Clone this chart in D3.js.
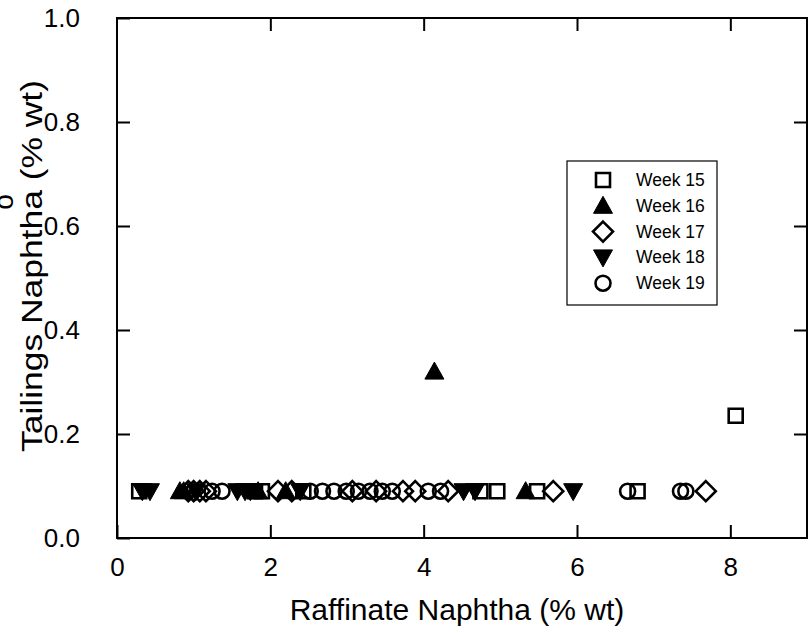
<!DOCTYPE html>
<html>
<head>
<meta charset="utf-8">
<script src="https://cdn.jsdelivr.net/npm/d3@7"></script>
<style>
  body { margin: 0; background: #fff; }
  text { font-family: "Liberation Sans", Arial, sans-serif; fill: #000; }
</style>
</head>
<body>
<svg id="chart"></svg>
<script>
// week series, x = raffinate naphtha, y = tailings naphtha (% wt)
const weeks = ["Week 15", "Week 16", "Week 17", "Week 18", "Week 19"];
const shapes = ["square", "triangle", "diamond", "triangleDown", "circle"];

const week15x = [0.29, 1.80, 1.89, 2.43, 4.74, 4.96, 5.48, 6.79, 8.07];
const week15y = [0.09, 0.09, 0.09, 0.09, 0.09, 0.09, 0.09, 0.09, 0.235];
const week16x = [0.82, 0.87, 1.84, 2.20, 4.14, 5.33];
const week16y = [0.09, 0.09, 0.09, 0.09, 0.32, 0.09];
const week17x = [0.93, 1.00, 1.08, 1.16, 2.10, 2.28, 3.07, 3.38, 3.73, 3.89, 4.32, 5.69, 7.68];
const week17y = [0.09, 0.09, 0.09, 0.09, 0.09, 0.09, 0.09, 0.09, 0.09, 0.09, 0.09, 0.09, 0.09];
const week18x = [0.33, 0.43, 1.03, 1.57, 1.67, 1.74, 2.39, 4.52, 4.67, 5.95];
const week18y = [0.09, 0.09, 0.09, 0.09, 0.09, 0.09, 0.09, 0.09, 0.09, 0.09];
const week19x = [1.24, 1.37, 2.52, 2.68, 2.83, 2.99, 3.15, 3.30, 3.46, 3.59, 4.06, 4.22, 6.66, 7.35, 7.42];
const week19y = [0.09, 0.09, 0.09, 0.09, 0.09, 0.09, 0.09, 0.09, 0.09, 0.09, 0.09, 0.09, 0.09, 0.09, 0.09];

const xTicks = [0, 2, 4, 6, 8];
const yTicks = [0, 0.2, 0.4, 0.6, 0.8, 1.0];

const seriesX = [week15x, week16x, week17x, week18x, week19x];
const seriesY = [week15y, week16y, week17y, week18y, week19y];

const width = 811, height = 633;
const margin = {top: 18, right: 4, bottom: 95, left: 117};

const svg = d3.select("#chart").attr("width", width).attr("height", height);

const x = d3.scaleLinear().domain([0, 9]).range([margin.left, width - margin.right]);
const y = d3.scaleLinear().domain([0, 1]).range([height - margin.bottom, margin.top]);

// marker outlines
function shapePath(kind) {
  const p = d3.path();
  if (kind === "square") {
    p.rect(-7, -7, 14, 14);
  } else if (kind === "triangle") {
    p.moveTo(0, -9.5); p.lineTo(9.5, 7.5); p.lineTo(-9.5, 7.5); p.closePath();
  } else if (kind === "triangleDown") {
    p.moveTo(0, 9.5); p.lineTo(9.5, -7.5); p.lineTo(-9.5, -7.5); p.closePath();
  } else if (kind === "diamond") {
    p.moveTo(0, -10); p.lineTo(10, 0); p.lineTo(0, 10); p.lineTo(-10, 0); p.closePath();
  } else {
    p.arc(0, 0, 7.5, 0, 2 * Math.PI);
  }
  return p.toString();
}
const filled = k => k === "triangle" || k === "triangleDown";

// frame + inward ticks on all sides
const axBottom = d3.axisBottom(x).tickValues(xTicks).tickSizeInner(-13).tickSizeOuter(0).tickPadding(20);
const axTop = d3.axisTop(x).tickValues(xTicks.filter(d => d > 0)).tickSizeInner(-13).tickSizeOuter(0).tickFormat("");
const axLeft = d3.axisLeft(y).tickValues(yTicks).tickSizeInner(-13).tickSizeOuter(0).tickPadding(37).tickFormat(d3.format(".1f"));
const axRight = d3.axisRight(y).tickValues(yTicks.filter(d => d > 0 && d < 1)).tickSizeInner(-13).tickSizeOuter(0).tickFormat("");

const gb = svg.append("g").attr("transform", `translate(0,${y(0)})`).call(axBottom);
const gt = svg.append("g").attr("transform", `translate(0,${y(1)})`).call(axTop);
const gl = svg.append("g").attr("transform", `translate(${x(0)},0)`).call(axLeft);
const gr = svg.append("g").attr("transform", `translate(${x(9)},0)`).call(axRight);

[gb, gt, gl, gr].forEach(g => {
  g.select(".domain").remove();
  g.selectAll(".tick line").attr("stroke", "#000").attr("stroke-width", 2);
});
gb.selectAll(".tick text").style("font-size", "26px").attr("font-family", null);
gl.selectAll(".tick text").style("font-size", "26px").attr("font-family", null).attr("text-anchor", "end");

svg.append("rect")
  .attr("x", x(0)).attr("y", y(1))
  .attr("width", x(9) - x(0)).attr("height", y(0) - y(1))
  .attr("fill", "none").attr("stroke", "#000").attr("stroke-width", 2);

// points
seriesX.forEach((xs, i) => {
  const kind = shapes[i];
  svg.append("g").selectAll("path")
    .data(xs.map((v, j) => [v, seriesY[i][j]]))
    .join("path")
    .attr("transform", d => `translate(${x(d[0])},${y(d[1])})`)
    .attr("d", shapePath(kind))
    .attr("fill", filled(kind) ? "#000" : "none")
    .attr("stroke", "#000")
    .attr("stroke-width", filled(kind) ? 1 : 2.6);
});

// legend
const lg = svg.append("g");
lg.append("rect")
  .attr("x", 567).attr("y", 161).attr("width", 150).attr("height", 144)
  .attr("fill", "#fff").attr("stroke", "#000").attr("stroke-width", 1.2);
weeks.forEach((w, i) => {
  const yy = 180 + i * 25.8;
  const kind = shapes[i];
  lg.append("path")
    .attr("transform", `translate(603,${yy})`)
    .attr("d", shapePath(kind))
    .attr("fill", filled(kind) ? "#000" : "none")
    .attr("stroke", "#000")
    .attr("stroke-width", filled(kind) ? 1 : 2.6);
  lg.append("text").attr("x", 636).attr("y", yy + 6).style("font-size", "17.5px").text(w);
});

// axis titles
svg.append("text")
  .attr("x", 457).attr("y", 620)
  .attr("text-anchor", "middle").style("font-size", "30px")
  .text("Raffinate Naphtha (% wt)");

svg.append("text")
  .attr("transform", "translate(42,266) rotate(-90)")
  .attr("text-anchor", "middle").style("font-size", "30px")
  .attr("textLength", 372).attr("lengthAdjust", "spacingAndGlyphs")
  .text("Tailings Naphtha (% wt)");

// stray clipped glyph at the far left
svg.append("text")
  .attr("transform", "translate(13,202) rotate(-90)")
  .attr("text-anchor", "middle").style("font-size", "28px")
  .text("o");
</script>
</body>
</html>
